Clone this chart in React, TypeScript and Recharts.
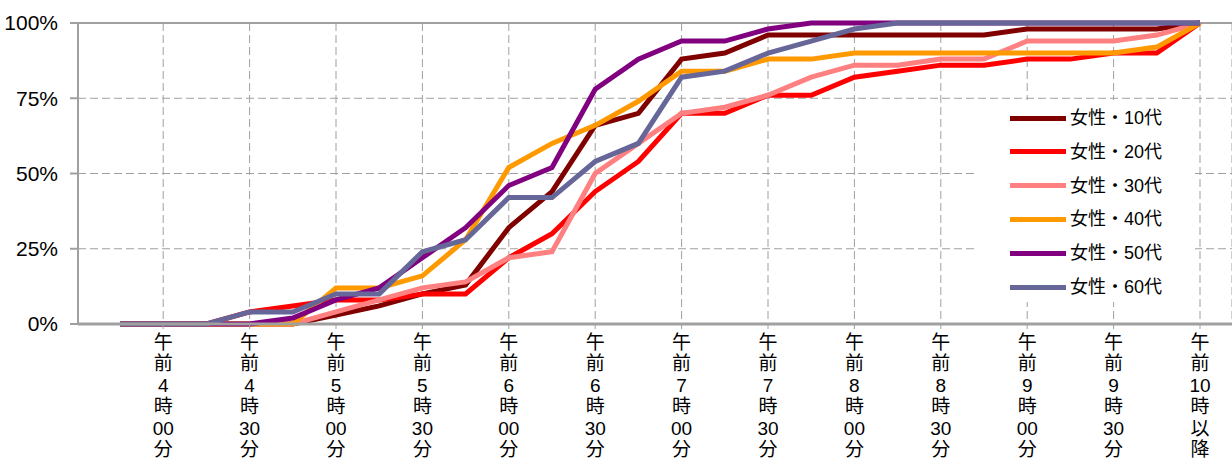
import React from 'react';
import { LineChart, Line, XAxis, YAxis, CartesianGrid, Legend, ReferenceLine } from 'recharts';

// 15-minute slots; only the :00 / :30 ones get a label
const categories = [
  '午前3時45分', '午前4時00分', '午前4時15分', '午前4時30分', '午前4時45分',
  '午前5時00分', '午前5時15分', '午前5時30分', '午前5時45分',
  '午前6時00分', '午前6時15分', '午前6時30分', '午前6時45分',
  '午前7時00分', '午前7時15分', '午前7時30分', '午前7時45分',
  '午前8時00分', '午前8時15分', '午前8時30分', '午前8時45分',
  '午前9時00分', '午前9時15分', '午前9時30分', '午前9時45分',
  '午前10時以降',
];
const labelledTicks = categories.filter((_, i) => i % 2 === 1);
const yTicks = [0, 25, 50, 75, 100];

const seriesNames = ['女性・10代', '女性・20代', '女性・30代', '女性・40代', '女性・50代', '女性・60代'];
const seriesColors = ['#800000', '#FF0000', '#FF8080', '#FF9900', '#800080', '#666699'];

const age10 = [0, 0, 0, 0, 0, 3, 6, 10, 13, 32, 44, 66, 70, 88, 90, 96, 96, 96, 96, 96, 96, 98, 98, 98, 98, 100];
const age20 = [0, 0, 0, 4, 6, 8, 8, 10, 10, 22, 30, 44, 54, 70, 70, 76, 76, 82, 84, 86, 86, 88, 88, 90, 90, 100];
const age30 = [0, 0, 0, 0, 0, 4, 8, 12, 14, 22, 24, 50, 60, 70, 72, 76, 82, 86, 86, 88, 88, 94, 94, 94, 96, 100];
const age40 = [0, 0, 0, 0, 0, 12, 12, 16, 28, 52, 60, 66, 74, 84, 84, 88, 88, 90, 90, 90, 90, 90, 90, 90, 92, 100];
const age50 = [0, 0, 0, 0, 2, 8, 12, 22, 32, 46, 52, 78, 88, 94, 94, 98, 100, 100, 100, 100, 100, 100, 100, 100, 100, 100];
const age60 = [0, 0, 0, 4, 4, 10, 10, 24, 28, 42, 42, 54, 60, 82, 84, 90, 94, 98, 100, 100, 100, 100, 100, 100, 100, 100];

const seriesValues = [age10, age20, age30, age40, age50, age60];
const keys = ['s10', 's20', 's30', 's40', 's50', 's60'];

const data = categories.map((time, i) => {
  const row: Record<string, string | number> = { time };
  keys.forEach((k, s) => { row[k] = seriesValues[s][i]; });
  return row;
});

const FONT = '"Liberation Sans", "Noto Sans CJK JP", sans-serif';
const FRAME = '#A0A0A0';

const TimeTick = (props: any) => {
  const { x, y, payload } = props;
  const parts: string[] = String(payload.value).match(/\d+|./g) || [];
  return (
    <text x={x} y={y} textAnchor="middle" fontSize={19} fill="#000" fontFamily={FONT}>
      {parts.map((p, i) => (
        <tspan key={i} x={x} dy={i === 0 ? 17 : 21.4}>{p}</tspan>
      ))}
    </text>
  );
};

const renderLegend = (props: any) => {
  const payload = props.payload || [];
  return (
    <div style={{ position: 'relative', width: 217, height: 202, background: '#fff' }}>
      {payload.map((entry: any, i: number) => (
        <div
          key={entry.value}
          style={{ position: 'absolute', left: 32, top: 4 + i * 33.8, height: 28, display: 'flex', alignItems: 'center' }}
        >
          <span style={{ display: 'inline-block', width: 56, height: 5, background: entry.color }} />
          <span style={{ marginLeft: 4, fontSize: 18, lineHeight: '28px', fontFamily: FONT, color: '#000', whiteSpace: 'nowrap' }}>
            {entry.value}
          </span>
        </div>
      ))}
    </div>
  );
};

export default function App() {
  return (
    <div style={{ position: 'absolute', left: 0, top: 0, width: 1232, height: 461, background: '#fff' }}>
      <LineChart width={1232} height={461} data={data} margin={{ top: 23, right: 0, bottom: 0, left: 0 }}>
        <CartesianGrid stroke={FRAME} strokeDasharray="8 4" strokeWidth={1} />
        <XAxis
          dataKey="time"
          ticks={labelledTicks}
          interval={0}
          height={137}
          padding={{ left: 42, right: 32 }}
          axisLine={{ stroke: FRAME, strokeWidth: 3 }}
          tickLine={{ stroke: FRAME }}
          tickSize={5}
          tickMargin={3}
          tick={<TimeTick />}
        />
        <YAxis
          width={78}
          domain={[0, 100]}
          ticks={yTicks}
          tickFormatter={(v: number) => `${v}%`}
          axisLine={{ stroke: FRAME, strokeWidth: 2 }}
          tickLine={{ stroke: FRAME, strokeWidth: 2 }}
          tickSize={8}
          tickMargin={12}
          tick={{ fill: '#000', fontSize: 21, fontFamily: FONT }}
        />
        <ReferenceLine y={100} stroke={FRAME} strokeWidth={2} />
        <Legend
          layout="vertical"
          align="center"
          verticalAlign="middle"
          content={renderLegend}
          wrapperStyle={{ left: 978, top: 100, width: 217, height: 202 }}
        />
        {keys.map((k, s) => (
          <Line
            key={k}
            type="linear"
            dataKey={k}
            name={seriesNames[s]}
            stroke={seriesColors[s]}
            strokeWidth={5}
            dot={false}
            activeDot={false}
            isAnimationActive={false}
          />
        ))}
      </LineChart>
    </div>
  );
}
